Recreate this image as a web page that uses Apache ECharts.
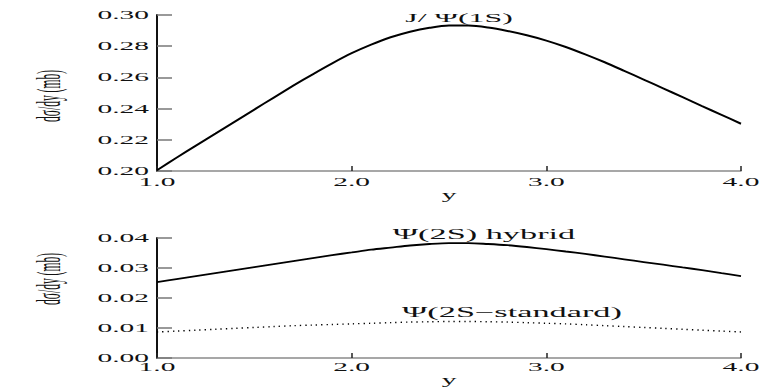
<!DOCTYPE html>
<html>
<head>
<meta charset="utf-8">
<script src="https://cdn.jsdelivr.net/npm/echarts@6.0.0/dist/echarts.min.js"></script>
<style>
  html, body { margin: 0; padding: 0; background: #fff; }
  #chart { width: 765px; height: 387px; }
</style>
</head>
<body>
<div id="chart"></div>
<script>
// ---- data ----
const rapidity = [1.0,1.1,1.2,1.3,1.4,1.5,1.6,1.7,1.8,1.9,2.0,2.1,2.2,2.3,2.4,2.5,2.6,2.7,2.8,2.9,3.0,3.1,3.2,3.3,3.4,3.5,3.6,3.7,3.8,3.9,4.0];
const jpsi1S = [0.2005,0.2085,0.2163,0.2240,0.2317,0.2394,0.2471,0.2547,0.2620,0.2690,0.2755,0.2810,0.2857,0.2893,0.2918,0.2932,0.2932,0.2920,0.2898,0.2870,0.2836,0.2795,0.2748,0.2697,0.2642,0.2586,0.2530,0.2473,0.2416,0.2360,0.2303];
const psi2SHybrid = [0.0253,0.0263,0.0273,0.0283,0.0293,0.0303,0.0313,0.0323,0.0333,0.0343,0.0352,0.0361,0.0368,0.0375,0.0380,0.0383,0.0383,0.0380,0.0376,0.0370,0.0363,0.0355,0.0347,0.0338,0.0329,0.0320,0.0311,0.0302,0.0293,0.0283,0.0273];
const psi2SStandard = [0.0087,0.0090,0.0093,0.0096,0.0099,0.0102,0.0105,0.0108,0.0110,0.0112,0.0114,0.0116,0.0118,0.0120,0.0121,0.0122,0.0122,0.0121,0.0120,0.0118,0.0116,0.0114,0.0111,0.0108,0.0105,0.0102,0.0099,0.0096,0.0093,0.0090,0.0087];
const xTickLabels = ['1.0','2.0','3.0','4.0'];
const yTickLabelsTop = ['0.20','0.22','0.24','0.26','0.28','0.30'];
const yTickLabelsBottom = ['0.00','0.01','0.02','0.03','0.04'];
const labelTop = 'J/ \u03A8(1S)';
const labelHybrid = '\u03A8(2S) hybrid';
const labelStandard = '\u03A8(2S\u2212standard)';
const yName = 'd\u03C3/dy (mb)';
const xName = 'y';

// ---- chart ----
const FONT = '"Liberation Serif", "Times New Roman", serif';
const STRETCH = 2.45;
const chart = echarts.init(document.getElementById('chart'), null, { renderer: 'svg' });

// natural text width, used to squeeze the tall y-axis caption to its length in the reference
function textWidth(str, size) {
  const c = document.createElement('canvas').getContext('2d');
  c.font = size + 'px ' + FONT;
  return c.measureText(str).width;
}
const yNameSize = 34;
const yNameSqueeze = 52 / textWidth(yName, yNameSize);

function xAxisCfg(gridIndex, nameGap, labelMargin) {
  return {
    type: 'value', gridIndex: gridIndex, min: 1, max: 4, interval: 1,
    name: xName, nameLocation: 'middle', nameGap: nameGap,
    nameTextStyle: { fontFamily: FONT, fontSize: 12, color: '#111' },
    axisLine: { show: true, lineStyle: { color: '#8a8a8a', width: 1.5 } },
    axisTick: { show: true, inside: true, length: 5, lineStyle: { color: '#222', width: 1.5 } },
    axisLabel: { margin: labelMargin, fontFamily: FONT, fontSize: 12, color: '#111',
      formatter: function (v) { return xTickLabels[Math.round(v) - 1]; } },
    splitLine: { show: false }
  };
}
function yAxisCfg(gridIndex, min, max, interval, labels) {
  return {
    type: 'value', gridIndex: gridIndex, min: min, max: max, interval: interval,
    axisLine: { show: true, lineStyle: { color: '#111', width: 2 } },
    axisTick: { show: true, inside: true, length: 15, lineStyle: { color: '#777', width: 1.5 } },
    axisLabel: { margin: 8, fontFamily: FONT, fontSize: 12, color: '#111',
      formatter: function (v) { return labels[Math.round((v - min) / interval)]; } },
    splitLine: { show: false }
  };
}
function annot(text, x, y, size) {
  return { type: 'text', x: x, y: y, scaleX: STRETCH, scaleY: 1,
    style: { text: text, fontFamily: FONT, fontSize: size, fill: '#111', align: 'center', verticalAlign: 'middle' } };
}
function yCaption(x, y) {
  return { type: 'text', x: x, y: y, rotation: Math.PI / 2, scaleX: yNameSqueeze, scaleY: 1,
    style: { text: yName, fontFamily: FONT, fontSize: yNameSize, fill: '#111', align: 'center', verticalAlign: 'middle' } };
}

chart.setOption({
  animation: false,
  backgroundColor: '#fff',
  grid: [
    { left: 157, right: 24, top: 15, height: 156 },
    { left: 157, right: 24, top: 238, height: 126 }
  ],
  xAxis: [ xAxisCfg(0, 17, 5), xAxisCfg(1, 11, 3) ],
  yAxis: [
    yAxisCfg(0, 0.20, 0.30, 0.02, yTickLabelsTop),
    yAxisCfg(1, 0, 0.04, 0.01, yTickLabelsBottom)
  ],
  series: [
    { type: 'line', xAxisIndex: 0, yAxisIndex: 0, showSymbol: false, smooth: 0.3,
      lineStyle: { color: '#000', width: 2 },
      data: rapidity.map(function (x, i) { return [x, jpsi1S[i]]; }) },
    { type: 'line', xAxisIndex: 1, yAxisIndex: 1, showSymbol: false, smooth: 0.3,
      lineStyle: { color: '#000', width: 1.8 },
      data: rapidity.map(function (x, i) { return [x, psi2SHybrid[i]]; }) },
    { type: 'line', xAxisIndex: 1, yAxisIndex: 1, showSymbol: false, smooth: 0.3,
      lineStyle: { color: '#000', width: 1.4, type: [1.3, 4] },
      data: rapidity.map(function (x, i) { return [x, psi2SStandard[i]]; }) }
  ],
  graphic: [
    annot(labelTop, 459, 17, 13),
    annot(labelHybrid, 484, 234, 14),
    annot(labelStandard, 512, 312, 14),
    yCaption(48, 96),
    yCaption(48, 279)
  ]
});

// Axis texts in the reference are horizontally stretched; emulate with SVG textLength.
const axisTexts = new Set([].concat(xTickLabels, yTickLabelsTop, yTickLabelsBottom, [xName]));
function stretchTexts() {
  var nodes = document.querySelectorAll('#chart svg text');
  nodes.forEach(function (t) {
    if (t.getAttribute('data-stretched')) return;
    if (!axisTexts.has(t.textContent)) return;
    var w = t.getComputedTextLength();
    if (!w) return;
    t.setAttribute('textLength', (w * STRETCH).toFixed(1));
    t.setAttribute('lengthAdjust', 'spacingAndGlyphs');
    t.setAttribute('data-stretched', '1');
  });
}
try { chart.getZr().flush(); } catch (e) {}
stretchTexts();
chart.on('finished', stretchTexts);
setTimeout(stretchTexts, 30);
setTimeout(stretchTexts, 200);
</script>
</body>
</html>
